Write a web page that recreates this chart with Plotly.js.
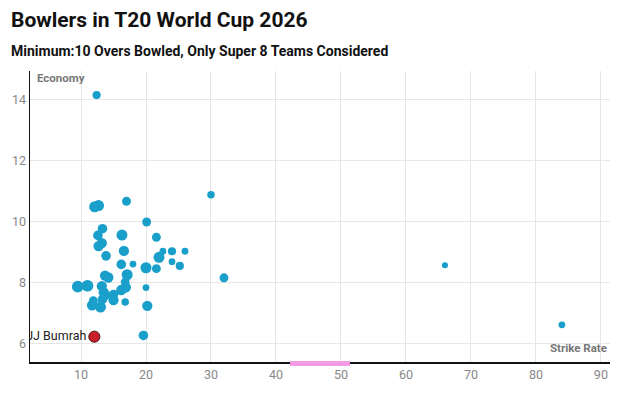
<!DOCTYPE html>
<html>
<head>
<meta charset="utf-8">
<script src="https://cdn.plot.ly/plotly-3.0.1.min.js"></script>
<style>html,body{margin:0;padding:0;background:#fff;}#chart{width:621px;height:397px;}</style>
</head>
<body>
<div id="chart"></div>
<script>
// Strike rate (x), economy (y), wickets (bubble size)
const strikeRate = [12.4, 30.0, 12.1, 12.7, 17.0, 20.1, 13.3, 12.6, 16.3, 21.6, 13.2, 12.7, 16.6, 22.6, 24.0, 26.0, 13.85, 22.0, 24.0, 16.2, 18.0, 25.2, 20.0, 21.6, 13.7, 14.2, 17.1, 32.0, 16.8, 9.5, 11.0, 13.2, 20.0, 16.9, 16.2, 13.5, 13.8, 15.0, 15.0, 13.3, 11.9, 16.8, 11.7, 13.0, 20.2, 19.6, 66.0, 84.0];
const economy    = [14.14, 10.87, 10.48, 10.52, 10.66, 9.98, 9.76, 9.54, 9.55, 9.48, 9.29, 9.19, 9.03, 9.02, 9.02, 9.02, 8.87, 8.82, 8.68, 8.59, 8.60, 8.54, 8.48, 8.45, 8.22, 8.16, 8.25, 8.15, 8.01, 7.86, 7.89, 7.88, 7.83, 7.84, 7.75, 7.67, 7.58, 7.60, 7.42, 7.44, 7.40, 7.36, 7.25, 7.19, 7.23, 6.26, 8.56, 6.61];
const wickets    = [6, 5, 10, 10, 7, 7, 8, 8, 10, 7, 9, 9, 9, 4, 6, 4, 8, 10, 4, 8, 4, 6, 10, 7, 9, 9, 10, 7, 7, 11, 11, 9, 4, 9, 9, 9, 8, 8, 9, 8, 7, 5, 9, 10, 9, 8, 3, 4];

const highlightName = ["JJ Bumrah"];
const highlightSR   = [12.05];
const highlightEco  = [6.22];
const highlightWk   = [8];

const toSize = w => 4 + w * 0.7;

const traces = [
  {
    type: 'scatter', mode: 'markers',
    x: strikeRate, y: economy,
    marker: { color: '#1a9fcb', opacity: 1, size: wickets.map(toSize), line: { width: 0 } },
    hoverinfo: 'x+y'
  },
  {
    type: 'scatter', mode: 'markers+text',
    x: highlightSR, y: highlightEco, text: highlightName,
    textposition: 'middle left',
    textfont: { family: 'Roboto, sans-serif', size: 12.5, color: '#222' },
    marker: { color: '#c8202a', opacity: 1, size: highlightWk.map(w => toSize(w) + 1.5), line: { width: 1, color: '#4a1010' } }
  }
];

const layout = {
  width: 621, height: 397,
  margin: { l: 30, r: 11, t: 71, b: 35 },
  paper_bgcolor: '#fff', plot_bgcolor: '#fff',
  showlegend: false,
  font: { family: 'Roboto, sans-serif', color: '#888' },
  xaxis: {
    range: [2.15, 91.4], tickvals: [10, 20, 30, 40, 50, 60, 70, 80, 90],
    showgrid: true, gridcolor: '#e6e6e6', gridwidth: 1,
    zeroline: false, showline: true, linecolor: '#111', linewidth: 1.5,
    ticks: '', tickfont: { size: 12.5, color: '#888' }
  },
  yaxis: {
    range: [5.39, 14.93], tickvals: [6, 8, 10, 12, 14],
    showgrid: true, gridcolor: '#e6e6e6', gridwidth: 1,
    zeroline: false, showline: true, linecolor: '#111', linewidth: 1.5,
    ticks: '', tickfont: { size: 12.5, color: '#888' }
  },
  annotations: [
    { xref: 'paper', yref: 'paper', x: -21/580, y: 1 + 51/291, xanchor: 'left', yanchor: 'middle',
      text: '<b>Bowlers in T20 World Cup 2026</b>', showarrow: false,
      font: { family: 'Roboto, sans-serif', size: 21, color: '#111' } },
    { xref: 'paper', yref: 'paper', x: -21/580, y: 1 + 20/291, xanchor: 'left', yanchor: 'middle',
      text: '<b>Minimum:10 Overs Bowled, Only Super 8 Teams Considered</b>', showarrow: false,
      font: { family: 'Roboto, sans-serif', size: 14, color: '#111' } },
    { xref: 'paper', yref: 'paper', x: 5/580, y: 1 - 7/291, xanchor: 'left', yanchor: 'middle',
      text: '<b>Economy</b>', showarrow: false,
      font: { family: 'Roboto, sans-serif', size: 11.5, color: '#777' } },
    { xref: 'paper', yref: 'paper', x: 1 - 1/580, y: 14/291, xanchor: 'right', yanchor: 'middle',
      text: '<b>Strike Rate</b>', showarrow: false,
      font: { family: 'Roboto, sans-serif', size: 11.5, color: '#777' } }
  ],
  shapes: [
    { type: 'line', xref: 'paper', yref: 'paper', x0: 260/580, x1: 320/580, y0: -1.5/291, y1: -1.5/291,
      line: { color: '#f59be6', width: 5 } }
  ]
};

Plotly.newPlot('chart', traces, layout, { displayModeBar: false, staticPlot: true });
</script>
</body>
</html>
